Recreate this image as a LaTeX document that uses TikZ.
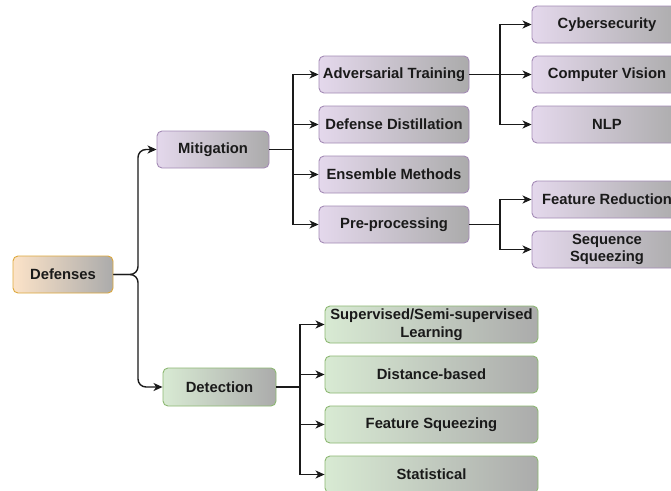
\documentclass[tikz,border=0pt]{standalone}
\usepackage{fontspec}
\setmainfont{Liberation Sans}
\usetikzlibrary{arrows.meta}
\definecolor{purfill}{HTML}{E4D8EC}
\definecolor{purstroke}{HTML}{A48BB6}
\definecolor{grnfill}{HTML}{D8EAD3}
\definecolor{grnstroke}{HTML}{8DB872}
\definecolor{orgfill}{HTML}{FCE3C8}
\definecolor{orgstroke}{HTML}{DDA83C}
\definecolor{gryfill}{HTML}{ABABAB}
\definecolor{txt}{HTML}{1A1A1A}
\definecolor{ln}{HTML}{1A1A1A}
\begin{document}
\begin{tikzpicture}[x=1pt,y=-1pt,
  box/.style={rounded corners=5pt, line width=0.9pt, inner sep=0pt, align=center,
    minimum height=37pt, text=txt,
    font=\fontsize{14.8}{17.5}\selectfont\bfseries},
  pur/.style={box, draw=purstroke, left color=purfill, right color=gryfill},
  grn/.style={box, draw=grnstroke, left color=grnfill, right color=gryfill},
  org/.style={box, draw=orgstroke, left color=orgfill, right color=gryfill},
  arr/.style={draw=ln, line width=1.4pt, -{Stealth[length=9pt,width=8pt,inset=2.5pt]}},
]
\clip (0,0) rectangle (671,490);
\fill[white] (0,0) rectangle (671,490);

% level 0/1
\node[org, minimum width=100pt] (def) at (63,274.5) {Defenses};
\node[pur, minimum width=112pt] (mit) at (213,149.5) {Mitigation};
\node[grn, minimum width=113pt, minimum height=38pt] (det) at (219.5,387) {Detection};

% mitigation children
\node[pur, minimum width=150pt] (adv) at (394,74.5) {Adversarial Training};
\node[pur, minimum width=150pt] (dd) at (394,124.5) {Defense Distillation};
\node[pur, minimum width=150pt] (ens) at (394,174.5) {Ensemble Methods};
\node[pur, minimum width=150pt] (pre) at (394,224.5) {Pre-processing};

% level 3
\node[pur, minimum width=150pt] (cyb) at (607,24.5) {Cybersecurity};
\node[pur, minimum width=150pt] (cv) at (607,74.5) {Computer Vision};
\node[pur, minimum width=150pt] (nlp) at (607,124.5) {NLP};
\node[pur, minimum width=150pt] (fr) at (607,199.5) {Feature Reduction};
\node[pur, minimum width=150pt] (ss) at (607,249.5) {Sequence\\Squeezing};

% detection children
\node[grn, minimum width=213pt] (sup) at (431.5,324.5) {Supervised/Semi-supervised\\Learning};
\node[grn, minimum width=213pt] (dist) at (431.5,374.5) {Distance-based};
\node[grn, minimum width=213pt] (fsq) at (431.5,424.5) {Feature Squeezing};
\node[grn, minimum width=213pt] (stat) at (431.5,474.5) {Statistical};

% junctions
\coordinate (bx) at (138,274.5);
\coordinate (mj) at (293,149.5);
\coordinate (aj) at (500,74.5);
\coordinate (pj) at (500,224.5);
\coordinate (dj) at (300,387);

% brace
\draw[arr, rounded corners=8pt] (def.east) -- (bx) |- (mit.west);
\draw[arr, rounded corners=8pt] (def.east) -- (bx) |- (det.west);

% mitigation
\foreach \n in {adv,dd,ens,pre} \draw[arr] (mit.east) -- (mj) |- (\n.west);
\foreach \n in {cyb,cv,nlp} \draw[arr] (adv.east) -- (aj) |- (\n.west);
\foreach \n in {fr,ss} \draw[arr] (pre.east) -- (pj) |- (\n.west);

% detection
\foreach \n in {sup,dist,fsq,stat} \draw[arr] (det.east) -- (dj) |- (\n.west);
\end{tikzpicture}
\end{document}
